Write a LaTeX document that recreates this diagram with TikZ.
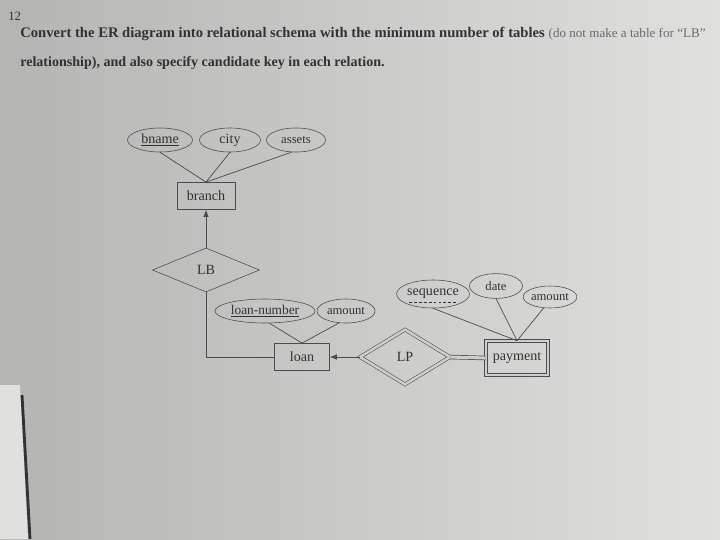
\documentclass[tikz,border=0pt]{standalone}
\usepackage{fontspec}
\setmainfont{Liberation Serif}
\usetikzlibrary{shapes.geometric,arrows.meta}
\definecolor{paper}{RGB}{206,206,204}
\definecolor{paperlight}{RGB}{224,224,222}
\definecolor{paperdark}{RGB}{180,180,178}
\definecolor{ink}{RGB}{50,50,50}
\definecolor{lineink}{RGB}{75,75,75}
\definecolor{faint}{RGB}{105,105,105}
\begin{document}
\begin{tikzpicture}[x=0.025cm,y=-0.025cm,
  attr/.style={draw=lineink,ellipse,inner sep=0pt,minimum height=0.6cm,text=ink,font=\fontsize{10}{12}\selectfont},
  entity/.style={draw=lineink,rectangle,minimum width=1.45cm,minimum height=0.68cm,text=ink,font=\fontsize{10}{12}\selectfont},
  weakentity/.style={entity,double=paper,double distance=1.8pt},
  rel/.style={draw=lineink,diamond,inner sep=0pt,text=ink,font=\fontsize{10}{12}\selectfont},
  link/.style={draw=lineink,line width=0.5pt},
  qtext/.style={anchor=base west,inner sep=0pt,text=ink,font=\fontsize{10.4}{12}\selectfont\bfseries}]
% photo of the page
\shade[left color=paperdark,right color=paperlight] (0,0) rectangle (720,539);
\useasboundingbox (0,0) rectangle (720,539);
\fill[paperlight] (0,385) -- (20,385) -- (28,539) -- (0,539) -- cycle;
\draw[black!80,line width=2pt] (22,395) -- (30,539);
% question
\node[qtext,font=\fontsize{9}{11}\selectfont] (qnum) at (8,20) {12};
\node[qtext] (line1) at (20,37) {Convert the ER diagram into relational schema with the minimum number of tables};
\node[qtext,anchor=base west,text=faint,font=\fontsize{9.3}{11}\selectfont] (line1b) at (line1.base east) {\ (do not make a table for ``LB''};
\node[qtext,font=\fontsize{10}{12}\selectfont\bfseries] (line2) at (20,66) {relationship), and also specify candidate key in each relation.};
% branch
\node[attr,minimum width=1.625cm] (bname) at (160,140) {\underline{bname}};
\node[attr,minimum width=1.525cm] (city) at (230,140) {city};
\node[attr,minimum width=1.475cm,font=\fontsize{9}{11}\selectfont] (assets) at (296,140) {assets};
\node[entity] (branch) at (206,196) {branch};
\draw[link] (bname.south) -- (branch.north);
\draw[link] (city.south) -- (branch.north);
\draw[link] (assets.250) -- (branch.north);
% LB
\node[rel,minimum width=2.675cm,minimum height=1.1cm] (lb) at (206,270) {LB};
\draw[link,-{Latex[length=5pt,width=4pt]}] (lb.north) -- (branch.south);
% loan
\node[attr,minimum width=2.5cm,font=\fontsize{9.5}{11}\selectfont] (loannumber) at (265,311) {\underline{loan-number}};
\node[attr,minimum width=1.45cm,font=\fontsize{9}{11}\selectfont] (loanamount) at (346,311) {amount};
\node[entity,minimum width=1.375cm] (loan) at (302,357) {loan};
\draw[link] (loannumber.290) -- (loan.north);
\draw[link] (loanamount.240) -- (loan.north);
\draw[link] (lb.south) |- (loan.west);
% LP
\node[rel,minimum width=2.25cm,minimum height=1.375cm,double=paper,double distance=1.8pt] (lp) at (405,357) {LP};
\draw[link,-{Latex[length=5pt,width=4pt]}] (lp.west) -- (loan.east);
% payment
\node[attr,minimum width=1.675cm,minimum height=0.7cm] (sequence) at (433,294) {sequence};
\draw[ink,line width=0.7pt,dash pattern=on 2pt off 1.5pt] ([xshift=-0.6cm,yshift=-0.2cm]sequence.center) -- ([xshift=0.6cm,yshift=-0.2cm]sequence.center);
\node[attr,minimum width=1.325cm,minimum height=0.62cm,font=\fontsize{9}{11}\selectfont] (date) at (496,286) {date};
\node[attr,minimum width=1.15cm,minimum height=0.55cm,font=\fontsize{9}{11}\selectfont] (payamount) at (550,297) {amount};
\node[weakentity,minimum width=1.55cm,minimum height=0.85cm] (payment) at (517,358) {payment};
\draw[link] (sequence.south) -- (payment.north);
\draw[link] (date.south) -- (payment.north);
\draw[link] (payamount.240) -- (payment.north);
\draw[link,double=paper,double distance=2.2pt] (lp.east) -- (payment.west);
\end{tikzpicture}
\end{document}
